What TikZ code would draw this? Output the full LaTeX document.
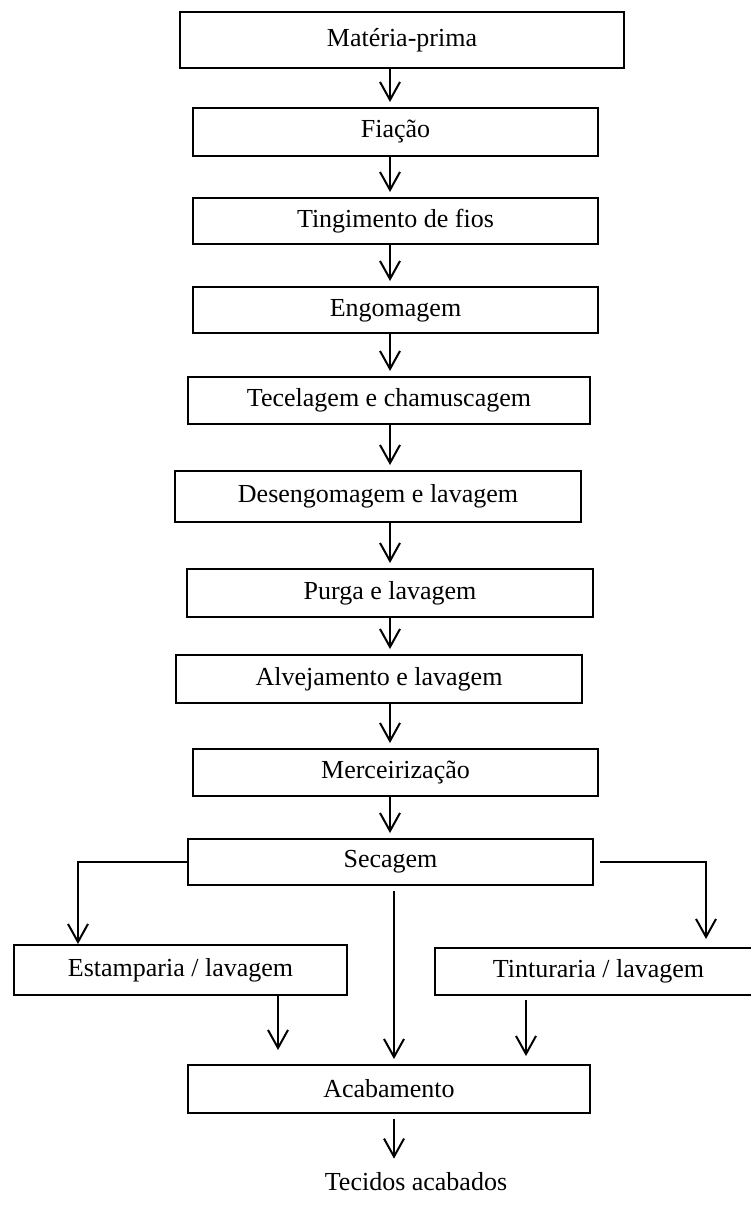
\documentclass[tikz,border=0pt]{standalone}
\usepackage{fontspec}
\setmainfont{Liberation Serif}
\usetikzlibrary{arrows.meta}
\begin{document}
\begin{tikzpicture}[x=1pt,y=-1pt,
  box/.style={draw, line width=2pt, inner sep=0pt, align=center, font=\fontsize{26}{30}\selectfont},
  arr/.style={line width=2pt, -{Straight Barb[length=18pt,width=20pt,line width=2pt]}},
  lbl/.style={inner sep=0pt, font=\fontsize{26}{30}\selectfont}]
\useasboundingbox (0,0) rectangle (750,1205);
\node[box, minimum width=444pt, minimum height=56pt] (b1) at (402,40) {Matéria-prima};
\node[box, minimum width=405pt, minimum height=48pt] (b2) at (395.5,132) {Fiação};
\node[box, minimum width=405pt, minimum height=46pt] (b3) at (395.5,221) {Tingimento de fios};
\node[box, minimum width=405pt, minimum height=46pt, text depth=4pt] (b4) at (395.5,310) {Engomagem};
\node[box, minimum width=402pt, minimum height=47pt] (b5) at (389,400.5) {Tecelagem e chamuscagem};
\node[box, minimum width=406pt, minimum height=51pt] (b6) at (378,496.5) {Desengomagem e lavagem};
\node[box, minimum width=406pt, minimum height=48pt] (b7) at (390,593) {Purga e lavagem};
\node[box, minimum width=406pt, minimum height=48pt] (b8) at (379,679) {Alvejamento e lavagem};
\node[box, minimum width=405pt, minimum height=47pt] (b9) at (395.5,772.5) {Merceirização};
\node[box, minimum width=405pt, minimum height=46pt] (b10) at (390.5,862) {Secagem};
\node[box, minimum width=333pt, minimum height=50pt] (b11) at (180.5,970) {Estamparia / lavagem};
\node[box, minimum width=327pt, minimum height=47pt] (b12) at (598.5,971.5) {Tinturaria / lavagem};
\node[box, minimum width=402pt, minimum height=48pt] (b13) at (389,1089) {Acabamento};
\node[lbl] (t) at (416,1182) {Tecidos acabados};
\coordinate (cx) at (390,0);
\coordinate (mx) at (394,0);
\coordinate (lx) at (78,0);
\coordinate (rx) at (706,0);
\coordinate (ex) at (278,0);
\coordinate (tx) at (526,0);
\foreach \a/\b in {b1/b2,b2/b3,b3/b4,b4/b5,b5/b6,b6/b7,b7/b8,b8/b9,b9/b10}
  \draw[arr, shorten >=5pt] (cx |- \a.south) -- (cx |- \b.north);
\draw[arr] (b10.west) -| (lx |- b11.north);
\draw[arr, shorten >=8pt] ([xshift=6pt]b10.east) -| (rx |- b12.north);
\draw[arr, shorten <=5pt, shorten >=5pt] (mx |- b10.south) -- (mx |- b13.north);
\draw[arr, shorten >=14pt] (ex |- b11.south) -- (ex |- b13.north);
\draw[arr, shorten <=4pt, shorten >=8pt] (tx |- b12.south) -- (tx |- b13.north);
\draw[arr, shorten <=5pt, shorten >=14pt] (mx |- b13.south) -- (mx |- t.north);
\end{tikzpicture}
\end{document}
